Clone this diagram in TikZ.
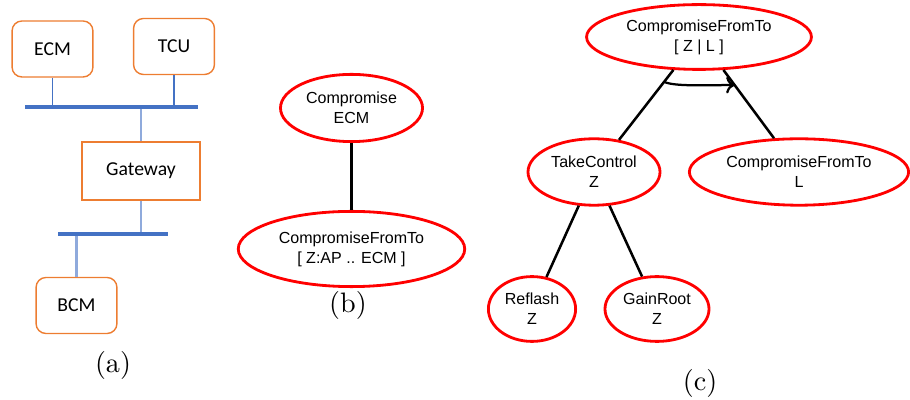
\documentclass[tikz,border=0pt]{standalone}
\usepackage{fontspec}
\usetikzlibrary{shapes.geometric,arrows.meta}
\newfontfamily\calibri{Carlito}
\newfontfamily\arial{Liberation Sans}
\definecolor{boxorange}{RGB}{237,125,49}
\definecolor{busblue}{RGB}{68,114,196}
\definecolor{stubblue}{RGB}{143,170,220}

\begin{document}
\begin{tikzpicture}[x=0.0125cm, y=-0.0125cm,
		ecu/.style={draw=boxorange, line width=.5pt, rounded corners=3.5pt, minimum width=1.01cm, minimum height=.7cm, font=\calibri\fontsize{7}{8}\selectfont},
		gwbox/.style={ecu, rounded corners=0pt, minimum width=1.47cm, minimum height=.72cm},
		bus/.style={busblue, line width=1.1pt},
		stub/.style={busblue, line width=.45pt},
		lstub/.style={stubblue, line width=.75pt},
		goal/.style={draw=red, line width=1pt, ellipse, inner sep=0pt, align=center, font=\arial\fontsize{5.7}{7.1}\selectfont},
		edge/.style={line width=.9pt}]
		\useasboundingbox (0,0) rectangle (910,400);
		% (a) the network
		\node[ecu] (ecm) at (52.5,49) {ECM};
		\node[ecu] (tcu) at (174,46.5) {TCU};
		\node[gwbox] (gw) at (141,171) {Gateway};
		\node[ecu] (bcm) at (76.5,305.5) {BCM};
		\coordinate (busal) at (25,107);
		\coordinate (busar) at (198,107);
		\coordinate (busbl) at (58,234);
		\coordinate (busbr) at (168,234);
		\draw[stub] (ecm) -- (ecm |- busal);
		\draw[stub] (tcu) -- (tcu |- busal);
		\draw[lstub] (gw) -- (gw |- busal);
		\draw[lstub] (gw) -- (gw |- busbl);
		\draw[lstub] (bcm) -- (bcm |- busbl);
		\draw[bus] (busal) -- (busar);
		\draw[bus] (busbl) -- (busbr);
		\node (capa) at (113,365) {(a)};
		% (b) single step
		\node[goal, minimum width=1.775cm, minimum height=.84cm] (comp) at (351.5,108) {Compromise\\ECM};
		\node[goal, minimum width=2.83cm, minimum height=.94cm] (cft) at (351.5,249) {CompromiseFromTo\\{[} Z:AP .. ECM ]};
		\draw[edge] (comp) -- (cft);
		\node (capb) at (348,305) {(b)};
		% (c) refined tree
		\node[goal, minimum width=2.81cm, minimum height=.81cm] (top) at (699,37) {CompromiseFromTo\\{[} Z | L ]};
		\node[goal, minimum width=1.65cm, minimum height=.83cm] (tc) at (594,172) {TakeControl\\Z};
		\node[goal, minimum width=2.74cm, minimum height=.83cm] (cftl) at (799,172) {CompromiseFromTo\\L};
		\node[goal, minimum width=1.09cm, minimum height=.81cm] (refl) at (532,309) {Reflash\\Z};
		\node[goal, minimum width=1.3cm, minimum height=.81cm] (gain) at (657,309) {GainRoot\\Z};
		\draw[edge] (top) -- coordinate[pos=.17] (la) (tc);
		\draw[edge] (top) -- coordinate[pos=.22] (ra) (cftl);
		\draw[edge] (tc) -- (refl);
		\draw[edge] (tc) -- (gain);
		\draw[line width=.8pt, -{To[length=3pt,width=6pt]}] (la) .. controls +(10,5) and +(-25,0) .. (ra);
		\node (capc) at (700,383) {(c)};
\end{tikzpicture}
\end{document}
